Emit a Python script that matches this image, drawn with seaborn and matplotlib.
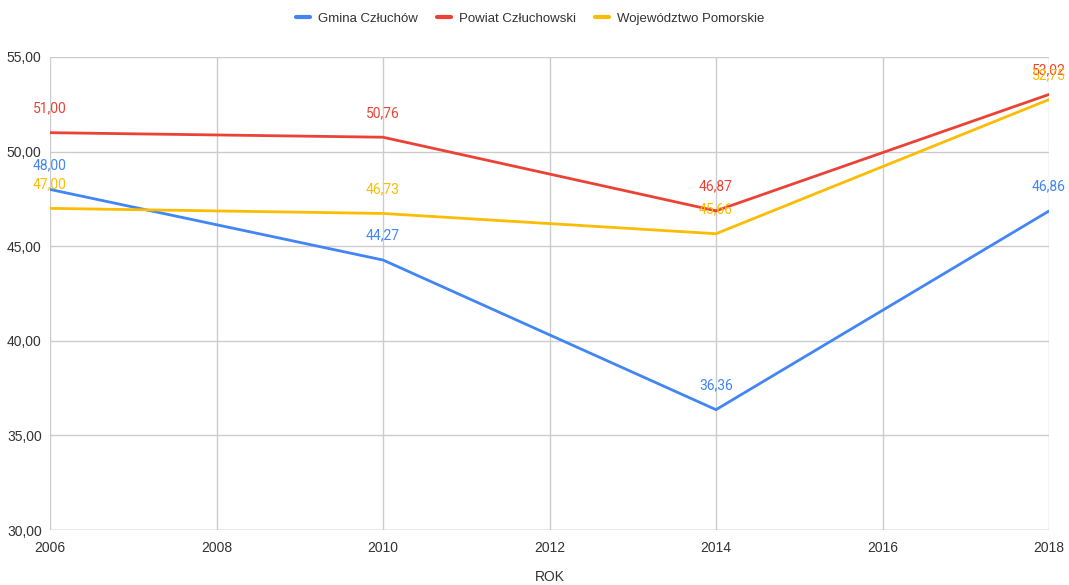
import matplotlib
matplotlib.use("Agg")
import matplotlib.pyplot as plt
import seaborn as sns
import pandas as pd

years = [2006, 2010, 2014, 2018]
gmina = [48.00, 44.27, 36.36, 46.86]
powiat = [51.00, 50.76, 46.87, 53.02]
woj = [47.00, 46.73, 45.66, 52.75]
series_names = ["Gmina Człuchów", "Powiat Człuchowski", "Województwo Pomorskie"]
colors = ["#4285f4", "#ea4335", "#fbbc04"]

df = pd.DataFrame({"ROK": years * 3,
                   "value": gmina + powiat + woj,
                   "series": [n for n in series_names for _ in years]})

sns.set_style("white")
plt.rcParams["font.family"] = ["Liberation Sans", "DejaVu Sans"]

fig = plt.figure(figsize=(10.69, 5.85), dpi=100)
ax = fig.add_axes([50 / 1069, 1 - 530 / 585, 999 / 1069, 473 / 585])

sns.lineplot(data=df, x="ROK", y="value", hue="series", palette=colors,
             linewidth=2, ax=ax, legend=False)

for name, vals, c in zip(series_names, [gmina, powiat, woj], colors):
    for x, v in zip(years, vals):
        ax.annotate(f"{v:.2f}".replace(".", ","), (x, v), xytext=(0, 12.5),
                    textcoords="offset points", ha="center", va="bottom",
                    color=c, fontsize=10, family=["Roboto", "DejaVu Sans"],
                    clip_on=False)

ax.set_xlim(2006, 2018)
ax.set_ylim(30, 55)
ax.set_xticks(range(2006, 2019, 2))
ax.set_yticks(range(30, 56, 5))
ax.set_yticklabels([f"{v},00" for v in range(30, 56, 5)])
ax.grid(True, color="#cccccc", linewidth=1)
for s in ax.spines.values():
    s.set_visible(False)
ax.axhline(30, color="#bbbbbb", linewidth=1)
ax.tick_params(axis="both", length=0, labelsize=10, colors="#333333")
ax.tick_params(axis="y", pad=6)
ax.tick_params(axis="x", pad=8)
ax.set_xlabel("ROK", fontsize=10, color="#333333", labelpad=11)
ax.set_ylabel("")

handles = [plt.Line2D([], [], color=c, linewidth=3) for c in colors]
fig.legend(handles, series_names, loc="center", bbox_to_anchor=(0.496, 1 - 19 / 585),
           ncol=3, frameon=False, fontsize=9.5, handlelength=1.05, columnspacing=1.45,
           handletextpad=0.6, labelcolor="#333333")

fig.savefig("out.png", dpi=100)
plt.close()
